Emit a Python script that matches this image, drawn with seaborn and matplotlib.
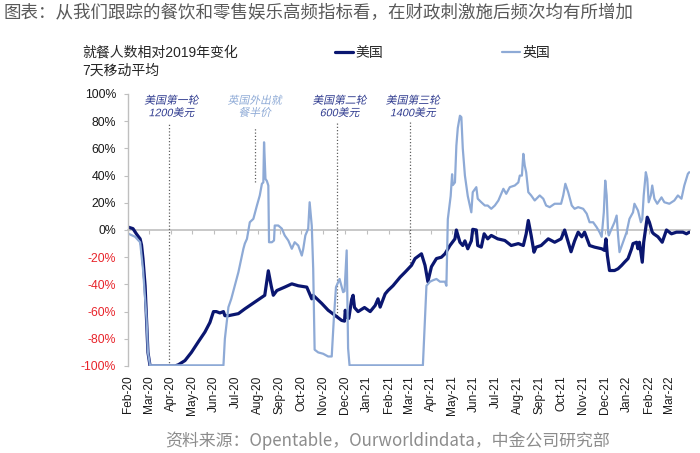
import pandas as pd
import matplotlib
matplotlib.use("Agg")
import matplotlib.pyplot as plt
import matplotlib.dates as mdates
from matplotlib import patheffects
from matplotlib.transforms import Affine2D
import seaborn as sns

# day 0 of the chart
start = pd.Timestamp("2020-02-18")

# 7-day moving average, % change vs 2019
us_days = [1, 7, 12, 17, 19, 21, 24, 26, 28, 31,
           66, 71, 80, 89, 99, 108, 115, 120, 124, 129,
           134, 136, 141, 155, 164, 178, 192, 197, 201, 204,
           209, 220, 230, 239, 251, 258, 260, 272, 281, 290,
           300, 304, 305, 307, 310, 314, 316, 318, 323, 332,
           340, 347, 351, 354, 361, 365, 372, 382, 389, 398,
           403, 412, 417, 421, 426, 433, 440, 445, 452, 459,
           461, 466, 470, 473, 477, 482, 484, 489, 491, 496,
           500, 505, 510, 519, 529, 538, 548, 555, 559, 562,
           566, 570, 573, 580, 590, 599, 608, 613, 618, 622,
           627, 632, 637, 641, 648, 655, 665, 669, 671, 673,
           676, 683, 688, 693, 697, 702, 707, 709, 714, 716,
           718, 722, 724, 729, 732, 736, 738, 744, 750, 756,
           763, 770, 779, 784, 788]
us_values = [2, 1, -3, -6.5, -11, -21, -41, -65, -90, -100,
             -100, -99, -96, -90, -82, -75, -68, -60, -60, -61,
             -60, -63, -63, -61.5, -58, -53, -48, -30, -41, -48,
             -44.5, -42, -39.6, -41, -42, -50.6, -48, -54, -59, -62.5,
             -66.5, -67, -59, -64, -65, -51, -48, -57, -60, -57,
             -60, -55.5, -50.6, -56.7, -47, -44.5, -41, -34.7, -31, -26,
             -21, -17.5, -26, -38, -27, -21, -20, -17.5, -11.4, -6.5,
             0, -9, -11.4, -8, -13.8, -8, 0.5, 0, -11.4, -12.6,
             -2.8, -6.5, -4, -6.5, -7.7, -11.4, -10, -11.4, -2.8, 7,
             -4, -16.3, -12.6, -11.4, -6.5, -9, -6.5, 0, -9, -16,
             -8, -1.6, -5, -1.6, -11.4, -12.6, -13.8, -15, -6.5, -18.8,
             -29.8, -29.8, -28.5, -26, -23.7, -21, -13.8, -10, -9, -13.8,
             -9, -23.7, -9, 9.4, 5.7, -1.6, -2.8, -5, -9, 0,
             -2.8, -1.6, -1.6, -2.8, -1.6]

uk_days = [1, 10, 17, 21, 26, 28, 31, 134, 136, 141,
           145, 150, 155, 162, 164, 167, 171, 176, 181, 185,
           188, 190, 191, 193, 195, 197, 198, 202, 205, 206,
           211, 216, 220, 225, 230, 234, 239, 244, 246, 249,
           253, 255, 258, 260, 262, 267, 274, 281, 286, 289,
           292, 297, 302, 304, 307, 309, 311, 414, 419, 424,
           428, 433, 438, 445, 447, 449, 453, 455, 456, 459,
           461, 463, 466, 468, 470, 473, 477, 480, 482, 484,
           489, 491, 496, 501, 505, 510, 515, 520, 527, 531,
           536, 543, 548, 550, 553, 555, 557, 559, 562, 566,
           571, 578, 583, 587, 592, 599, 608, 611, 614, 618,
           623, 627, 632, 639, 644, 648, 653, 658, 662, 665,
           668, 670, 672, 674, 675, 679, 683, 686, 688, 690,
           695, 700, 704, 709, 711, 716, 720, 722, 724, 727,
           729, 731, 734, 736, 739, 743, 749, 753, 760, 767,
           772, 777, 781, 786, 788]
uk_values = [-2.8, -5, -9, -28.5, -65, -90, -99.5, -99.5, -80, -56.7,
             -50.6, -40.8, -31, -13.8, -10, -6.5, 5.7, 8.2, 18, 25.4,
             34, 35, 64.5, 37.6, 36, 32.7, -9, -9, -7.7, 3.3,
             3.3, 1, -4, -7.7, -13.8, -9, -11.4, -18.8, -14, -4,
             1, 20.4, 3, -28.5, -88, -90, -91, -93, -93, -65,
             -42, -36, -45.7, -45, -15, -87, -99.5, -99.5, -41, -38,
             -37, -36, -38, -38, -41, 8, 25, 41, 33, 35,
             62, 75, 84, 83, 60, 40, 25, 18, 13, 27.8,
             31.5, 23, 20.4, 18, 18, 15.6, 18, 21.7, 30.3, 26.6,
             31.5, 32.7, 35, 40, 40, 56, 47.4, 42.5, 27.8, 25.4,
             21.7, 25.4, 23, 18, 16.8, 19.3, 19.3, 25.4, 34, 27.8,
             18, 15.6, 16.8, 15.6, 12, 5.7, 5.7, 2, -1.6, -5,
             13, 36.3, 25.4, -1.6, -4, 1, 5.7, 10.6, -4, -16.3,
             -9, -1.6, 8.2, 13, 19.3, 14.3, 5.7, 8, 25.4, 42.5,
             37.6, 20.4, 25.4, 32.7, 23, 19.3, 24, 20.4, 19.3, 21.7,
             25.4, 23, 32.7, 41.3, 42.5]

# stimulus events (day, label, who)
event_days = [57, 178, 293, 396]
event_labels = ["美国第一轮\n1200美元", "英国外出就\n餐半价", "美国第二轮\n600美元", "美国第三轮\n1400美元"]
event_country = ["us", "uk", "us", "us"]
event_top = [78, 75, 79, 80]
event_bottom = [-100, 35, -63, -24]

title = "图表：从我们跟踪的餐饮和零售娱乐高频指标看，在财政刺激施后频次均有所增加"
source = "资料来源：Opentable，Ourworldindata，中金公司研究部"

US_COLOR = "#0a1670"
UK_COLOR = "#8eaad6"
US_TEXT = "#2f3b8f"
GRID_GRAY = "#bfbfbf"
RED = "#e8242b"


class Slant(patheffects.AbstractPathEffect):
    """fake italic: the CJK font has no oblique face"""
    def draw_path(self, renderer, gc, tpath, affine, rgbFace=None):
        renderer.draw_path(gc, tpath, Affine2D().skew_deg(12, 0) + affine, rgbFace)


sns.set_style("white")
plt.rcParams["font.family"] = ["Liberation Sans", "Noto Sans CJK SC", "DejaVu Sans"]

us = pd.DataFrame({"date": start + pd.to_timedelta(us_days, unit="D"), "value": us_values})
uk = pd.DataFrame({"date": start + pd.to_timedelta(uk_days, unit="D"), "value": uk_values})
month_ticks = pd.date_range(start, "2022-03-18", freq=pd.DateOffset(months=1))
ev_dates = start + pd.to_timedelta(event_days, unit="D")

fig = plt.figure(figsize=(7, 4.53), dpi=100)
ax = fig.add_axes([128 / 700, 87 / 453, 562 / 700, 272 / 453])

sns.lineplot(data=us, x="date", y="value", color=US_COLOR, lw=2.3, label="美国", ax=ax)
sns.lineplot(data=uk, x="date", y="value", color=UK_COLOR, lw=1.6, label="英国", ax=ax)

# event markers
for d, lab, who, top, bot in zip(ev_dates, event_labels, event_country, event_top, event_bottom):
    c = US_TEXT if who == "us" else UK_COLOR
    ax.vlines(d, bot, top, colors="#606060", linestyles=(0, (1, 1.6)), lw=0.9, zorder=1)
    ax.text(d + pd.Timedelta(days=4 if who == "us" else 0), 90.5, lab, ha="center", va="center",
            fontsize=7.8, color=c, linespacing=1.25, path_effects=[Slant()])

ax.set_xlim(start, start + pd.Timedelta(days=789))
ax.set_ylim(-100, 100)

ax.set_xticks(month_ticks)
ax.set_xticklabels([t.strftime("%b-%y") for t in month_ticks], rotation=90, fontsize=8.6, color="#1a1a1a")
ax.tick_params(axis="x", length=0, pad=7)
ax.set_yticks(range(-100, 101, 20))
ax.set_yticklabels([f"{v}%" for v in range(-100, 101, 20)], fontsize=8.8)
ax.tick_params(axis="y", length=3, width=0.8, color=GRID_GRAY, pad=5.5, left=True)
for lab, v in zip(ax.get_yticklabels(), range(-100, 101, 20)):
    lab.set_color(RED if v < 0 else "#1a1a1a")
ax.set_xlabel("")
ax.set_ylabel("")

for s in ["top", "right", "bottom"]:
    ax.spines[s].set_visible(False)
ax.spines["left"].set_color(GRID_GRAY)
ax.spines["left"].set_linewidth(1)

# zero line with month ticks
zero = ax.secondary_xaxis(0.5)
zero.set_xticks(mdates.date2num(month_ticks))
zero.tick_params(direction="in", length=3, width=0.8, color=GRID_GRAY, labeltop=False, labelbottom=False)
zero.spines["top"].set_color(GRID_GRAY)
zero.spines["top"].set_linewidth(1.2)
zero.spines["bottom"].set_visible(False)

ax.legend(loc="center left", bbox_to_anchor=(335 / 700, 1 - 53 / 453), bbox_transform=fig.transFigure,
          ncol=2, frameon=False, fontsize=10, handlelength=1.3, handletextpad=0.15,
          columnspacing=8.6, borderpad=0, borderaxespad=0)

fig.text(82 / 700, 1 - 62 / 453, "就餐人数相对2019年变化\n7天移动平均", ha="left", va="center",
         fontsize=10, color="#262626", linespacing=1.35)
fig.text(4 / 700, 1 - 13 / 453, title, ha="left", va="center", fontsize=12.6,
         color="#595959", family=["Noto Sans CJK SC", "DejaVu Sans"])
fig.text(387 / 700, 1 - 441 / 453, source, ha="center", va="center", fontsize=12.2,
         color="#8c8c8c", family=["Noto Sans CJK SC", "DejaVu Sans"])

fig.savefig("out.png", dpi=100)
